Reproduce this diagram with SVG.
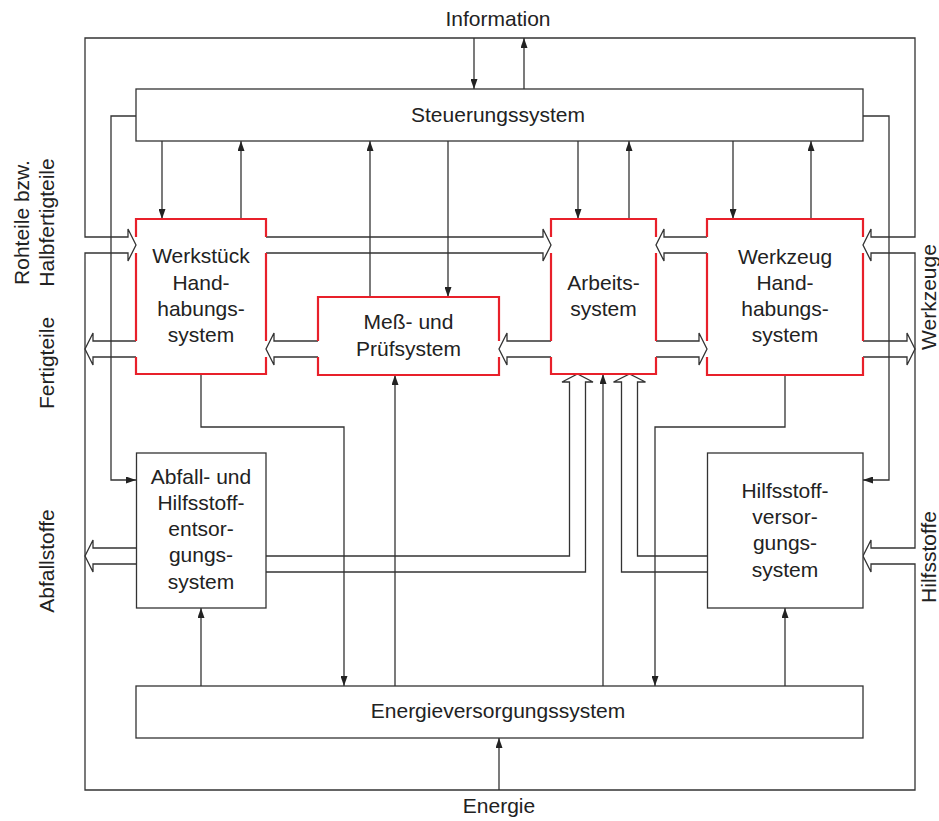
<svg xmlns="http://www.w3.org/2000/svg" width="939" height="821" viewBox="0 0 939 821">
<style>
.ln{fill:none;stroke:#333;stroke-width:1.3}
.bx{fill:#fff;stroke:#333;stroke-width:1.3}
.rb{fill:none;stroke:#e8202a;stroke-width:2.2}
.wf{fill:#fff;stroke:none}
.t{font-family:"Liberation Sans",Arial,Helvetica,sans-serif;font-size:21px;fill:#222;text-anchor:middle}
</style>
<defs>
<marker id="ah" markerWidth="10" markerHeight="7" refX="10" refY="3.5" orient="auto" markerUnits="userSpaceOnUse">
<path d="M0,0 L10,3.5 L0,7 z" fill="#222"/>
</marker>
</defs>
<rect width="939" height="821" fill="#fff"/>

<g id="connectors">
<!-- outer frame with Rohteile, Werkzeuge-in and Hilfsstoffe-in wide arrows -->
<path class="ln" d="M136,245 L128,229 V237 H85 V38 H915 V237 H871 V229 L863,245 L871,261 V253 H915 V548 H871 V540 L863,556 L871,572 V564 H915 V790 H85 V253 H128 V261 Z"/>
<!-- wide arrows -->
<path class="ln" d="M136,341 H93 V333 L85,349 L93,365 V357 H136"/>
<path class="ln" d="M136,548 H93 V540 L85,556 L93,572 V564 H136"/>
<path class="ln" d="M266,237 H543 V229 L551,245 L543,261 V253 H266"/>
<path class="ln" d="M318,341 H274 V333 L266,349 L274,365 V357 H318"/>
<path class="ln" d="M551,341 H507 V333 L499,349 L507,365 V357 H551"/>
<path class="ln" d="M707,237 H664 V229 L656,245 L664,261 V253 H707"/>
<path class="ln" d="M656,341 H699 V333 L707,349 L699,365 V357 H656"/>
<path class="ln" d="M863,341 H907 V333 L915,349 L907,365 V357 H863"/>
<path class="ln" d="M266,556 H569.5 V382 H562 L577.5,374 L593,382 H585.5 V572 H266"/>
<path class="ln" d="M707,572 H621.5 V382 H613.5 L629.5,374 L645.5,382 H637.5 V556 H707"/>
<!-- thin arrows -->
<path class="ln" d="M474,38 V89" marker-end="url(#ah)"/>
<path class="ln" d="M524,89 V38" marker-end="url(#ah)"/>
<path class="ln" d="M162,141 V219" marker-end="url(#ah)"/>
<path class="ln" d="M241,219 V141" marker-end="url(#ah)"/>
<path class="ln" d="M370,297 V141" marker-end="url(#ah)"/>
<path class="ln" d="M448,141 V297" marker-end="url(#ah)"/>
<path class="ln" d="M578,141 V219" marker-end="url(#ah)"/>
<path class="ln" d="M629,219 V141" marker-end="url(#ah)"/>
<path class="ln" d="M733,141 V219" marker-end="url(#ah)"/>
<path class="ln" d="M811,219 V141" marker-end="url(#ah)"/>
<path class="ln" d="M136,116 H111 V480 H136" marker-end="url(#ah)"/>
<path class="ln" d="M863,116 H889 V480 H863" marker-end="url(#ah)"/>
<path class="ln" d="M201,374 V427 H344 V686" marker-end="url(#ah)"/>
<path class="ln" d="M785,375 V427 H655 V686" marker-end="url(#ah)"/>
<path class="ln" d="M395,686 V375" marker-end="url(#ah)"/>
<path class="ln" d="M603,686 V374" marker-end="url(#ah)"/>
<path class="ln" d="M201,686 V608" marker-end="url(#ah)"/>
<path class="ln" d="M785,686 V608" marker-end="url(#ah)"/>
<path class="ln" d="M499,790 V738" marker-end="url(#ah)"/>
</g>

<g id="steuerung">
<rect class="bx" x="136" y="89" width="727" height="52"/>
<text class="t" x="498" y="122">Steuerungssystem</text>
</g>

<g id="werkstueck">
<path class="rb" d="M136,237 V219 H266 V237 M266,253 V341 M266,357 V374 H136 V357 M136,341 V253"/>
<text class="t" x="201" y="263">Werkstück</text>
<text class="t" x="201" y="290">Hand-</text>
<text class="t" x="201" y="316">habungs-</text>
<text class="t" x="201" y="342">system</text>
</g>

<g id="messsystem">
<path class="rb" d="M318,341 V297 H499 V341 M499,357 V375 H318 V357"/>
<text class="t" x="408.5" y="329">Meß- und</text>
<text class="t" x="408.5" y="356">Prüfsystem</text>
</g>

<g id="arbeitssystem">
<path class="rb" d="M551,237 V219 H656 V237 M656,253 V341 M656,357 V374 H551 V357 M551,341 V253"/>
<text class="t" x="603.5" y="290">Arbeits-</text>
<text class="t" x="603.5" y="316">system</text>
</g>

<g id="werkzeug">
<path class="rb" d="M707,237 V219 H863 V237 M863,253 V341 M863,357 V375 H707 V357 M707,341 V253"/>
<text class="t" x="785" y="264">Werkzeug</text>
<text class="t" x="785" y="290">Hand-</text>
<text class="t" x="785" y="316">habungs-</text>
<text class="t" x="785" y="342">system</text>
</g>

<g id="abfall">
<rect class="bx" x="136.5" y="453" width="129.5" height="155"/>
<text class="t" x="201" y="484">Abfall- und</text>
<text class="t" x="201" y="510">Hilfsstoff-</text>
<text class="t" x="201" y="536">entsor-</text>
<text class="t" x="201" y="562">gungs-</text>
<text class="t" x="201" y="589">system</text>
</g>

<g id="hilfsstoff">
<rect class="bx" x="707.5" y="453" width="155.5" height="155"/>
<text class="t" x="785" y="498">Hilfsstoff-</text>
<text class="t" x="785" y="524">versor-</text>
<text class="t" x="785" y="550">gungs-</text>
<text class="t" x="785" y="577">system</text>
</g>

<g id="energie">
<rect class="bx" x="136" y="686" width="727" height="52"/>
<text class="t" x="498" y="718">Energieversorgungssystem</text>
</g>

<g id="labels">
<text class="t" x="498" y="26">Information</text>
<text class="t" x="499" y="813">Energie</text>
<text class="t" transform="translate(28.5,222.5) rotate(-90)">Rohteile bzw.</text>
<text class="t" transform="translate(54,222.5) rotate(-90)">Halbfertigteile</text>
<text class="t" transform="translate(54,363) rotate(-90)">Fertigteile</text>
<text class="t" transform="translate(54,561) rotate(-90)">Abfallstoffe</text>
<text class="t" transform="translate(936,297) rotate(-90)">Werkzeuge</text>
<text class="t" transform="translate(936,557) rotate(-90)">Hilfsstoffe</text>
</g>
</svg>
